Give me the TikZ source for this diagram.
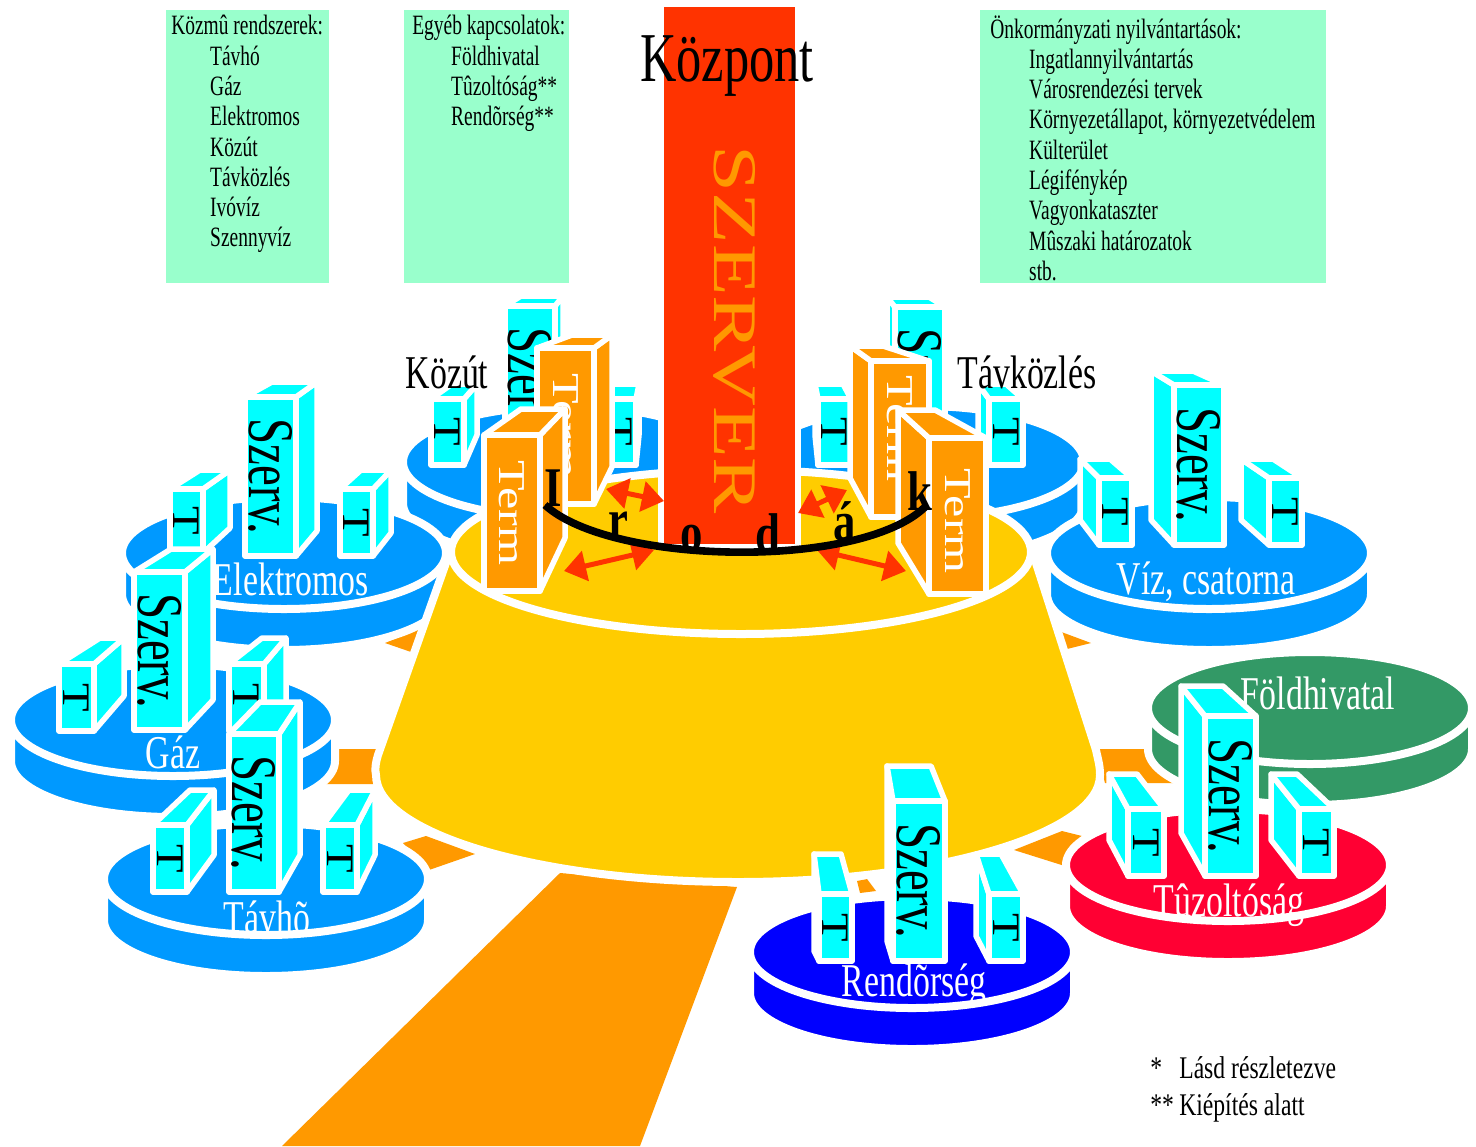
\documentclass[tikz,border=0pt]{standalone}
\usepackage{fontspec}
\setmainfont{Liberation Serif}
\usetikzlibrary{arrows.meta}
\definecolor{discblue}{HTML}{0099FF}
\definecolor{discgreen}{HTML}{339966}
\definecolor{discred}{HTML}{FF0033}
\definecolor{discnavy}{HTML}{0000FF}
\definecolor{boxcyan}{HTML}{00FFFF}
\definecolor{boxorange}{HTML}{FF9900}
\definecolor{baseyellow}{HTML}{FFCC00}
\definecolor{panelgreen}{HTML}{99FFCC}
\definecolor{serverred}{HTML}{FF3300}
\newcommand\fpx[1]{\fontsize{#1}{#1}\selectfont}
\newcommand\fpanel{\fontsize{14}{15.15}\selectfont}
\tikzset{
  x=0.5pt,y=-0.5pt,
  face/.style={draw=white,line width=2.75pt,line join=round},
  wedge/.style={fill=boxorange},
  szerv/.style={inner sep=0,rotate=-90,xscale=.72,font=\fpx{32.5},text=black},
  tlabel/.style={inner sep=0,rotate=-90,xscale=1.2,font=\fpx{19.5},text=black},
  term/.style={inner sep=0,rotate=-90,xscale=1.32,font=\fpx{19},text=white},
  disclabel/.style={inner sep=0,xscale=.72,font=\fpx{23.5},text=white},
  blacklabel/.style={inner sep=0,xscale=.72,font=\fpx{23.5},text=black},
  paneltext/.style={inner sep=0,anchor=north west,xscale=.695,align=left,font=\fpanel,text=black},
  legend/.style={inner sep=0,anchor=base west,xscale=.75,font=\fpx{15.75},text=black},
  arcletter/.style={inner sep=0,anchor=base,xscale=.8,font=\fpx{28}\bfseries,text=black},
  dblarrow/.style={draw=serverred,fill=serverred,line width=2.5pt,{Triangle[length=11pt,width=15pt]}-{Triangle[length=11pt,width=15pt]}},
}
% disc: centre x, centre y of top ellipse, colour
\newcommand\discbody[3]{%
  \path[fill=#3,draw=white,line width=4pt,line join=round]
    (#1-162,#2) -- (#1-162,#2+41)
    .. controls (#1-162,#2+41+30.9) and (#1-90,#2+97) .. (#1,#2+97)
    .. controls (#1+90,#2+97) and (#1+162,#2+41+30.9) .. (#1+162,#2+41)
    -- (#1+162,#2) -- cycle;
  \path[fill=#3,draw=white,line width=4pt]
    (#1-162,#2)
    .. controls (#1-162,#2+30.9) and (#1-90,#2+56) .. (#1,#2+56)
    .. controls (#1+90,#2+56) and (#1+162,#2+30.9) .. (#1+162,#2)
    .. controls (#1+162,#2-30.9) and (#1+90,#2-56) .. (#1,#2-56)
    .. controls (#1-90,#2-56) and (#1-162,#2-30.9) .. (#1-162,#2) -- cycle;
}
% box with side on the right: fill, x, y, w, h, dx, dyTop, dyBottom, back width
\newcommand\bxr[9]{%
  \path[face,fill=#1] (#2+#4,#3) -- (#2+#4+#6,#3-#7) -- (#2+#4+#6,#3+#5-#8) -- (#2+#4,#3+#5) -- cycle;
  \path[face,fill=#1] (#2,#3) -- (#2+#4+#6-#9,#3-#7) -- (#2+#4+#6,#3-#7) -- (#2+#4,#3) -- cycle;
  \path[face,fill=#1] (#2,#3) rectangle (#2+#4,#3+#5);
  \path (#2+#4/2,#3+#5/2) node
}
% box with side on the left (dx negative)
\newcommand\bxl[9]{%
  \path[face,fill=#1] (#2,#3) -- (#2+#6,#3-#7) -- (#2+#6,#3+#5-#8) -- (#2,#3+#5) -- cycle;
  \path[face,fill=#1] (#2,#3) -- (#2+#6,#3-#7) -- (#2+#6+#9,#3-#7) -- (#2+#4,#3) -- cycle;
  \path[face,fill=#1] (#2,#3) rectangle (#2+#4,#3+#5);
  \path (#2+#4/2,#3+#5/2) node
}
\begin{document}
\begin{tikzpicture}
\useasboundingbox[fill=white] (0,0) rectangle (1476,1146);

% ---- beam and wedges
\fill[wedge] (560,873) -- (737,887) -- (640,1146) -- (282,1146) -- cycle;
\fill[wedge] (385,643) -- (422,628) -- (414,653) -- cycle;
\fill[wedge] (330,749) -- (381,749) -- (373,784) -- (320,784) -- cycle;
\fill[wedge] (403,843) -- (426,836) -- (475,854) -- (429,870) -- cycle;
\fill[wedge] (1056,630) -- (1091,643) -- (1063,650) -- cycle;
\fill[wedge] (1096,749) -- (1160,749) -- (1180,783) -- (1105,783) -- cycle;
\fill[wedge] (1014,850) -- (1062,831) -- (1090,838) -- (1068,867) -- cycle;
\fill[wedge] (857,881) -- (867,879) -- (876,891) -- (860,893) -- cycle;

% ---- Kozut
\discbody{565}{462}{discblue}
\bxr{boxcyan}{431}{399}{33}{66}{13}{15}{30}{25}[tlabel]{T};
\bxr{boxcyan}{505}{306}{50}{158}{8}{10}{20}{42}[szerv]{Szerv.};
\bxr{boxcyan}{603}{399}{33}{66}{3}{15}{30}{28}[tlabel]{T};
% ---- Tavkozles
\discbody{922}{462}{discblue}
\bxl{boxcyan}{818}{399}{33}{66}{-3}{15}{30}{28}[tlabel]{T};
\bxl{boxcyan}{895}{307}{50}{158}{-8}{10}{20}{42}[szerv]{Szerv.};
\bxl{boxcyan}{989}{399}{34}{66}{-11}{15}{30}{28}[tlabel]{T};

% ---- Elektromos
\discbody{284}{553}{discblue}
\bxr{boxcyan}{170}{489}{33}{64}{27}{19}{25}{30}[tlabel]{T};
\bxr{boxcyan}{245}{397}{51}{159}{21}{15}{25}{45}[szerv]{Szerv.};
\bxr{boxcyan}{340}{489}{33}{67}{18}{19}{23}{30}[tlabel]{T};
\node[disclabel] (elek) at (291,579) {Elektromos};
% ---- Viz
\discbody{1209}{553}{discblue}
\bxl{boxcyan}{1099}{478}{33}{67}{-19}{19}{25}{30}[tlabel]{T};
\bxl{boxcyan}{1174}{385}{50}{160}{-23}{14}{25}{42}[szerv]{Szerv.};
\bxl{boxcyan}{1269}{478}{33}{67}{-28}{19}{25}{32}[tlabel]{T};
\node[disclabel] (viz) at (1206,582) {Víz, csatorna};

% ---- Gaz
\discbody{173}{720}{discblue}
\bxr{boxcyan}{59}{664}{35}{67}{30}{26}{35}{24}[tlabel]{T};
\bxr{boxcyan}{134}{572}{51}{158}{28}{23}{30}{42}[szerv]{Szerv.};
\bxr{boxcyan}{229}{664}{35}{67}{22}{26}{30}{24}[tlabel]{T};
\node[disclabel] (gaz) at (173,752) {Gáz};
% ---- Tavho
\discbody{266}{879}{discblue}
\bxr{boxcyan}{153}{825}{34}{67}{27}{35}{37}{24}[tlabel]{T};
\bxr{boxcyan}{229}{734}{50}{158}{21}{32}{37}{40}[szerv]{Szerv.};
\bxr{boxcyan}{323}{825}{34}{67}{18}{35}{37}{26}[tlabel]{T};
\node[disclabel] (tavho) at (267,917) {Távhõ};

% ---- central yellow base
\path[fill=baseyellow,draw=white,line width=4pt,line join=round]
  (447,560) -- (378,755) .. controls (375,765) and (375,770) .. (376,775)
  .. controls (376,833) and (538,882) .. (738,882)
  .. controls (938,882) and (1100,833) .. (1100,775)
  .. controls (1100,765) and (1098,760) .. (1096,750) -- (1035,560) -- cycle;
\path[fill=baseyellow,draw=white,line width=4pt]
  (451,552)
  .. controls (451,597.3) and (581,634) .. (741,634)
  .. controls (901,634) and (1031,597.3) .. (1031,552)
  .. controls (1031,506.7) and (901,470) .. (741,470)
  .. controls (581,470) and (451,506.7) .. (451,552) -- cycle;

% ---- server
\path[fill=serverred,draw=white,line width=3pt] (661,4) rectangle (798,547);
\fill[serverred] (664,7) rectangle (795,544);
\node[inner sep=0,rotate=-90,xscale=1.36,font=\fpx{31},text=boxorange] (szerver) at (735,330) {SZERVER};

% ---- terminals
\bxr{boxorange}{537}{348}{57}{156}{18}{13}{37}{40}[term]{Term};
\bxl{boxorange}{871}{361}{58}{156}{-21}{15}{39}{33}[term,xshift=-4pt]{Term};
\bxr{boxorange}{484}{435}{56}{156}{25}{26}{53}{44}[term]{Term};
\bxl{boxorange}{929}{438}{57}{156}{-31}{28}{51}{37}[term,xshift=2pt]{Term};

% ---- red arrows
\coordinate (a1) at (606,489); \coordinate (a2) at (664,501);
\coordinate (b1) at (798,513); \coordinate (b2) at (847,490);
\coordinate (c1) at (564,571); \coordinate (c2) at (654,550);
\coordinate (d1) at (817,550); \coordinate (d2) at (906,571);
\draw[dblarrow] (a1) -- (a2);
\draw[dblarrow] (b1) -- (b2);
\draw[dblarrow] (c1) -- (c2);
\draw[dblarrow] (d1) -- (d2);

% ---- Irodak arc and letters
\draw[black,line width=3.8pt] (545,505) .. controls (610,565) and (860,570) .. (925,507);
\node[arcletter] (l1) at (553,506) {I};
\node[arcletter] (l2) at (618,538) {r};
\node[arcletter] (l3) at (692,551) {o};
\node[arcletter] (l4) at (768,552) {d};
\node[arcletter] (l5) at (845,540) {á};
\node[arcletter] (l6) at (920,510) {k};

% ---- Kozpont and labels
\node[inner sep=0,xscale=.72,font=\fpx{35},text=black] (kozpont) at (727,66) {Központ};
\node[blacklabel] (kozut) at (447,372) {Közút};
\node[blacklabel] (tavk) at (1027,372) {Távközlés};

% ---- panels
\fill[panelgreen] (166,10) rectangle (329,283);
\fill[panelgreen] (404,10) rectangle (569,283);
\fill[panelgreen] (980,10) rectangle (1326,283);
\node[paneltext] (p1) at (171,15) {Közmû rendszerek:\\
  \hspace*{28pt}Távhó\\ \hspace*{28pt}Gáz\\ \hspace*{28pt}Elektromos\\ \hspace*{28pt}Közút\\
  \hspace*{28pt}Távközlés\\ \hspace*{28pt}Ivóvíz\\ \hspace*{28pt}Szennyvíz};
\node[paneltext] (p2) at (412,15) {Egyéb kapcsolatok:\\
  \hspace*{28pt}Földhivatal\\ \hspace*{28pt}Tûzoltóság**\\ \hspace*{28pt}Rendõrség**};
\node[paneltext] (p3) at (990,15) {Önkormányzati nyilvántartások:\\
  \hspace*{28pt}Ingatlannyilvántartás\\ \hspace*{28pt}Városrendezési tervek\\
  \hspace*{28pt}Környezetállapot, környezetvédelem\\ \hspace*{28pt}Külterület\\
  \hspace*{28pt}Légifénykép\\ \hspace*{28pt}Vagyonkataszter\\
  \hspace*{28pt}Mûszaki határozatok\\ \hspace*{28pt}stb.};

% ---- Foldhivatal
\discbody{1310}{708}{discgreen}
\node[disclabel] (fold) at (1318,693) {Földhivatal};
% ---- Rendorseg
\discbody{912}{952}{discnavy}
\bxl{boxcyan}{819}{894}{33}{67}{-5}{40}{10}{27}[tlabel]{T};
\bxl{boxcyan}{893}{801}{52}{160}{-6}{35}{20}{44}[szerv]{Szerv.};
\bxl{boxcyan}{989}{894}{34}{67}{-13}{40}{25}{25}[tlabel]{T};
\node[disclabel] (rend) at (914,985) {Rendõrség};
% ---- Tuzoltosag
\discbody{1228}{865}{discred}
\bxl{boxcyan}{1128}{809}{36}{67}{-19}{35}{36}{28}[tlabel]{T};
\bxl{boxcyan}{1205}{716}{51}{160}{-24}{30}{43}{42}[szerv]{Szerv.};
\bxl{boxcyan}{1299}{809}{35}{67}{-28}{35}{36}{26}[tlabel]{T};
\node[disclabel] (tuz) at (1229,905) {Tûzoltóság};

% ---- legend
\node[legend] (lg1) at (1150,1078) {*};
\node[legend] (lg2) at (1179,1078) {Lásd részletezve};
\node[legend] (lg3) at (1150,1115) {**};
\node[legend] (lg4) at (1179,1115) {Kiépítés alatt};
\end{tikzpicture}
\end{document}
